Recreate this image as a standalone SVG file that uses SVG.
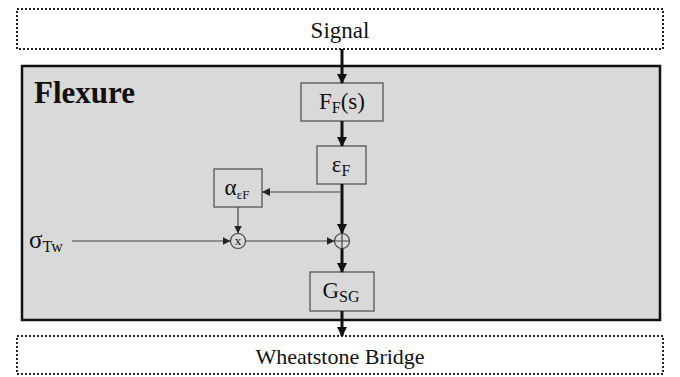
<svg xmlns="http://www.w3.org/2000/svg" width="680" height="377" viewBox="0 0 680 377">
<style>
.t{font-family:"Liberation Serif","Times New Roman",serif;fill:#111;}
.dot{fill:#fff;stroke:#222;stroke-width:2;stroke-dasharray:2 2;}
.blk{fill:#d9d9d9;stroke:#555;stroke-width:1.3;}
.thick{stroke:#111;stroke-width:3;fill:none;}
.thin{stroke:#444;stroke-width:1.2;fill:none;}
</style>
<defs>
<marker id="ah" markerWidth="10" markerHeight="10" refX="9" refY="5" orient="auto" markerUnits="userSpaceOnUse"><path d="M0,0 L10,5 L0,10 z" fill="#111"/></marker>
<marker id="as" markerWidth="8" markerHeight="8" refX="8" refY="4" orient="auto" markerUnits="userSpaceOnUse"><path d="M0,0 L8,4 L0,8 z" fill="#222"/></marker>
</defs>
<g id="signal"><rect class="dot" x="17" y="9" width="646" height="40"/><text class="t" x="340" y="38" font-size="23" text-anchor="middle">Signal</text></g>
<g id="flexure"><rect x="22" y="66" width="638" height="254" fill="#d9d9d9" stroke="#111" stroke-width="2.5"/><text class="t" x="34" y="103" font-size="31" font-weight="bold">Flexure</text></g>
<g id="wheatstone"><rect class="dot" x="17" y="336" width="646" height="38"/><text class="t" x="340" y="364" font-size="22" text-anchor="middle">Wheatstone Bridge</text></g>
<g id="ff"><rect class="blk" x="301" y="83" width="82" height="38"/><text class="t" x="342" y="109" font-size="23" text-anchor="middle">F<tspan font-size="16" dy="4">F</tspan><tspan dy="-4">(s)</tspan></text></g>
<g id="eps"><rect class="blk" x="317" y="146" width="49" height="38"/><text class="t" x="341" y="172" font-size="23" text-anchor="middle">ε<tspan font-size="16" dy="4">F</tspan></text></g>
<g id="alpha"><rect class="blk" x="214" y="169" width="48" height="38"/><text class="t" x="237" y="195" font-size="23" text-anchor="middle">α<tspan font-size="13" dy="4">εF</tspan></text></g>
<g id="mult"><circle cx="238" cy="241" r="7.5" fill="#d9d9d9" stroke="#444" stroke-width="1.2"/><text class="t" x="238" y="245" font-size="13" text-anchor="middle">x</text></g>
<g id="sum"><circle cx="342" cy="241" r="7.5" fill="#d9d9d9" stroke="#444" stroke-width="1.2"/><path d="M334.5,241 H349.5 M342,233.5 V248.5" stroke="#444" stroke-width="1.2"/></g>
<g id="gsg"><rect class="blk" x="310" y="272" width="64" height="39"/><text class="t" x="341" y="298" font-size="23" text-anchor="middle">G<tspan font-size="16" dy="4">SG</tspan></text></g>
<g id="sigma"><text class="t" x="29" y="248" font-size="25">σ<tspan font-size="16" dy="4">Tw</tspan></text></g>
<g id="connectors">
<line class="thick" x1="342" y1="49" x2="342" y2="83" marker-end="url(#ah)"/>
<line class="thick" x1="342" y1="121" x2="342" y2="146" marker-end="url(#ah)"/>
<line class="thick" x1="342" y1="184" x2="342" y2="233" marker-end="url(#ah)"/>
<line class="thick" x1="342" y1="248.5" x2="342" y2="272" marker-end="url(#ah)"/>
<line class="thick" x1="342" y1="311" x2="342" y2="336" marker-end="url(#ah)"/>
<line class="thin" x1="342" y1="192" x2="262" y2="192" marker-end="url(#as)"/>
<line class="thin" x1="238" y1="207" x2="238" y2="233.5" marker-end="url(#as)"/>
<line class="thin" x1="72" y1="241" x2="230.5" y2="241" marker-end="url(#as)"/>
<line class="thin" x1="245.5" y1="241" x2="334.5" y2="241" marker-end="url(#as)"/>
</g>
</svg>
